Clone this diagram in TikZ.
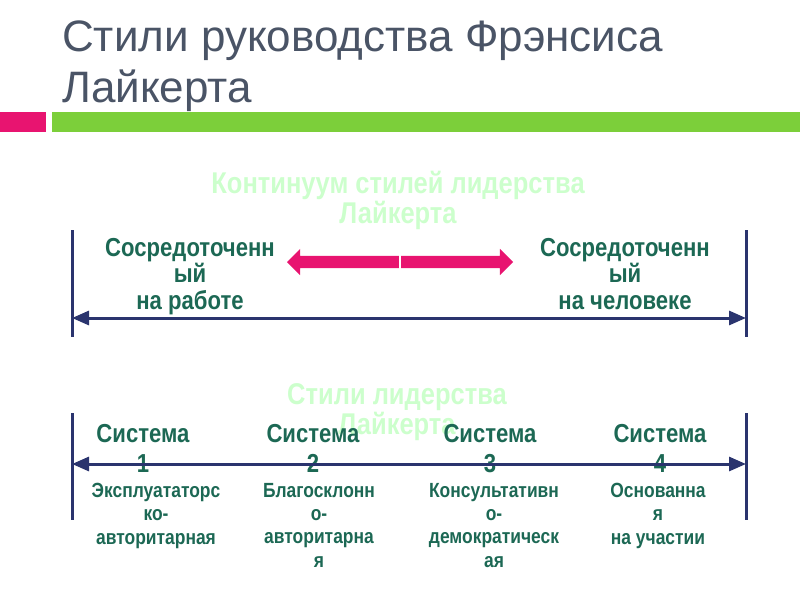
\documentclass[tikz,border=0pt]{standalone}
\usepackage{fontspec}
\setmainfont{Liberation Sans}
\newfontfamily\narrowsans[FakeStretch=0.85]{Liberation Sans}
\usetikzlibrary{arrows.meta, shapes.arrows}
\definecolor{titlegrey}{RGB}{74,84,102}
\definecolor{barpink}{RGB}{232,20,112}
\definecolor{bargreen}{RGB}{124,207,58}
\definecolor{palegreen}{RGB}{204,255,204}
\definecolor{tealtext}{RGB}{28,104,84}
\definecolor{navy}{RGB}{42,52,110}
\tikzset{
	heading/.style={text=palegreen, font=\narrowsans\bfseries\fontsize{30}{30}\selectfont, align=center, inner sep=0, anchor=north},
	pole/.style={text=tealtext, font=\narrowsans\bfseries\fontsize{26}{26.5}\selectfont, align=center, inner sep=0, anchor=north},
	system/.style={text=tealtext, font=\narrowsans\bfseries\fontsize{26}{30}\selectfont, align=center, inner sep=0, anchor=north},
	kind/.style={text=tealtext, font=\narrowsans\bfseries\fontsize{20.5}{23.3}\selectfont, align=center, inner sep=0, anchor=north},
	border/.style={draw=navy, line width=3pt},
	axis/.style={draw=navy, line width=3pt, {Triangle[length=17pt,width=14pt]}-{Triangle[length=17pt,width=14pt]}}
}
\begin{document}
\begin{tikzpicture}[x=1pt, y=-1pt]
	\useasboundingbox (0,0) rectangle (800,600);
	
	% title and bars
	\node[text=titlegrey, font=\fontsize{44}{51}\selectfont, align=left, inner sep=0, anchor=north west] (title) at (62,21) {Стили руководства Фрэнсиса\\Лайкерта};
	\fill[barpink] (0,112) rectangle (46,132);
	\fill[bargreen] (52,112) rectangle (800,132);
	
	% continuum
	\node[heading] (cont) at (398,171) {Континуум стилей лидерства\\Лайкерта};
	\node[pole] (work) at (190,238) {Сосредоточенн\\ый\\на работе};
	\node[pole] (human) at (625,238) {Сосредоточенн\\ый\\на человеке};
	\node[double arrow, fill=barpink, minimum height=226pt, inner xsep=0, inner ysep=6pt, double arrow head extend=7pt] (dir) at (400,262) {};
	\draw[white, line width=1.5pt] ([yshift=7pt]dir.center) -- ([yshift=-7pt]dir.center);
	
	\coordinate (t1l) at (72,230);
	\coordinate (b1l) at (72,337);
	\coordinate (t1r) at (746,230);
	\coordinate (b1r) at (746,337);
	\coordinate (a1l) at (72,318);
	\coordinate (a1r) at (746,318);
	\draw[border] (t1l) -- (b1l);
	\draw[border] (t1r) -- (b1r);
	\draw[axis] (a1l) -- (a1r);
	
	% systems
	\node[heading] (styles) at (397,383) {Стили лидерства\\Лайкерта};
	\node[system] (s1) at (143,424) {Система\\1};
	\node[system] (s2) at (313,424) {Система\\2};
	\node[system] (s3) at (490,424) {Система\\3};
	\node[system] (s4) at (660,424) {Система\\4};
	\node[kind] (k1) at (156,483) {Эксплуататорс\\ко-\\авторитарная};
	\node[kind] (k2) at (319,483) {Благосклонн\\о-\\авторитарна\\я};
	\node[kind] (k3) at (494,483) {Консультативн\\о-\\демократическ\\ая};
	\node[kind] (k4) at (658,483) {Основанна\\я\\на участии};
	
	\coordinate (t2l) at (72,413);
	\coordinate (b2l) at (72,520);
	\coordinate (t2r) at (746,413);
	\coordinate (b2r) at (746,520);
	\coordinate (a2l) at (72,464);
	\coordinate (a2r) at (746,464);
	\draw[border] (t2l) -- (b2l);
	\draw[border] (t2r) -- (b2r);
	\draw[axis] (a2l) -- (a2r);
\end{tikzpicture}
\end{document}
